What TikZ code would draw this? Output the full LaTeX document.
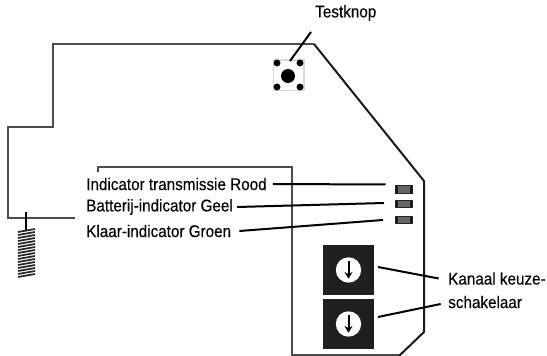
\documentclass[tikz,border=0pt]{standalone}
\usepackage{fontspec}
\setmainfont{Liberation Sans}[FakeStretch=0.9, FakeBold=0.25]
\usetikzlibrary{arrows.meta, positioning, shapes}

\begin{document}
\begin{tikzpicture}[
    x=0.75pt, y=-0.75pt,
    every node/.style={inner sep=0pt, font=\fontsize{12.7pt}{14pt}\selectfont},
    board/.style={draw=black!70, line width=1.2pt, line join=miter},
    edge/.style={draw=black!90, line width=1.5pt, line join=miter},
    leader/.style={draw=black, line width=1.5pt},
    led/.style={draw=black!85, fill=black!60, line width=.6pt, minimum width=13pt, minimum height=5.6pt,
        path picture={
            \fill[black!90] (path picture bounding box.south west) rectangle ++(2.2pt,6pt);
            \fill[black!90] (path picture bounding box.south east) rectangle ++(-2.2pt,6pt);}},
    switchbox/.style={fill=black!88, minimum width=38pt, minimum height=37.5pt},
    dial/.style={circle, fill=white, minimum size=19pt},
    hole/.style={circle, fill=black, minimum size=5.2pt}
    ]
    \useasboundingbox (0,0) rectangle (547,356);

    % Outline
    \draw[board] (98,172) -- (98,167) -- (292,167) -- (292,355) -- (400,355);
    \draw[board] (75,218) -- (8,218) -- (8,127) -- (53,127) -- (53,44) -- (314,44);
    \draw[edge] (314,44) -- (424,181) -- (424,332) -- (399,356);

    % Antenna
    \coordinate (ant_top) at (26,212);
    \coordinate (ant_end) at (26,230);
    \draw[line width=1.5pt] (ant_top) -- (ant_end);
    \foreach \y in {230,233,...,275}
      \draw[line width=1.3pt, black!85] (18,\y+2) -- (35,\y-1);

    % Test button
    \node (knop) [draw=black!15, fill=white, line width=1pt, minimum size=23pt] at (288.5,75.5) {};
    \node [circle, fill=black, minimum size=10.5pt] at (288,76) {};
    \node [hole] at (277,63) {};
    \node [hole] at (300,63) {};
    \node [hole] at (277,87) {};
    \node [hole] at (300,87) {};

    % Indicators
    \node (led_rood)  [led] at (404,189.5) {};
    \node (led_geel)  [led] at (404,204) {};
    \node (led_groen) [led] at (404,220) {};

    % Switches
    \node (sw_a) [switchbox] at (348.5,270) {};
    \node (sw_b) [switchbox] at (348.5,324) {};
    \foreach \s in {sw_a,sw_b} {
      \node (dial_\s) [dial] at (\s.center) {};
      \draw[line width=1.5pt, -{Stealth[length=5pt,width=6pt]}] ([yshift=7pt]dial_\s.center) -- ([yshift=-6.5pt]dial_\s.center);
    }

    % Labels
    \node (t_knop)  [anchor=west] at (315,13) {Testknop};
    \node (t_rood)  [anchor=west] at (86,184) {Indicator transmissie Rood};
    \node (t_geel)  [anchor=west] at (86,207) {Batterij-indicator Geel};
    \node (t_groen) [anchor=west] at (86,231) {Klaar-indicator Groen};
    \node (t_kan)   [anchor=west] at (448,278.5) {Kanaal keuze-};
    \node (t_sch)   [anchor=west] at (448,302) {schakelaar};

    % Leaders
    \coordinate (c_knop) at (311,32);
    \coordinate (c_rood) at (385.5,184.5);
    \coordinate (c_geel) at (384,203);
    \coordinate (c_groen) at (383,220);
    \coordinate (c_kan) at (378,267);
    \coordinate (c_sch) at (378,317);
    \draw[leader] (c_knop) -- (290,61);
    \draw[leader] ([xshift=4.5pt]t_rood.east) -- (c_rood);
    \draw[leader] ([xshift=3pt]t_geel.east) -- (c_geel);
    \draw[leader] ([xshift=6pt]t_groen.east) -- (c_groen);
    \draw[leader] ([xshift=-7pt]t_kan.west) -- (c_kan);
    \draw[leader] ([xshift=-5.5pt,yshift=-1.5pt]t_sch.west) -- (c_sch);
\end{tikzpicture}
\end{document}
